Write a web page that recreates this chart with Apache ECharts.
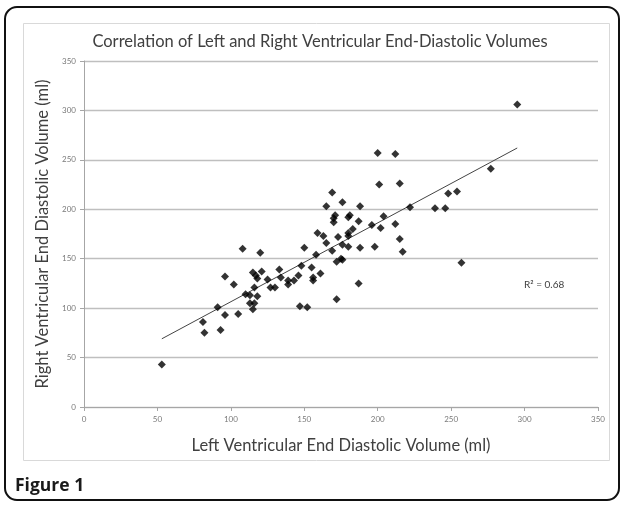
<!DOCTYPE html>
<html>
<head>
<meta charset="utf-8">
<script src="https://cdn.jsdelivr.net/npm/echarts@6/dist/echarts.min.js"></script>
<style>
  html, body { margin: 0; padding: 0; background: #fff; }
  #chart { width: 624px; height: 505px; }
</style>
</head>
<body>
<div id="chart"></div>
<script>
// LV end-diastolic volume (ml)
const lvedv = [53, 81, 82, 91, 93, 96, 96, 102, 105, 108, 110, 113, 113, 115, 117, 118, 116, 115, 116, 118,
  120, 121, 125, 127, 130, 133, 134, 139, 139, 143, 146, 148, 147, 152, 150, 155, 156, 156, 161, 158,
  159, 163, 165, 165, 169, 169, 170, 170, 171, 172, 172, 173, 175, 176, 176, 176, 180, 180, 180, 180,
  181, 183, 187, 187, 188, 188, 196, 198, 200, 201, 202, 204, 212, 212, 215, 215, 217, 222, 239, 246,
  248, 254, 257, 277, 295];
// RV end-diastolic volume (ml)
const rvedv = [43, 86, 75, 101, 78, 132, 93, 124, 94, 160, 114, 113, 105, 136, 133, 130, 105, 99, 121, 112,
  156, 137, 129, 121, 121, 139, 131, 128, 124, 128, 133, 143, 102, 101, 161, 141, 131, 128, 135, 154,
  176, 173, 166, 203, 217, 158, 187, 191, 194, 147, 109, 172, 150, 149, 207, 164, 176, 173, 162, 192,
  194, 180, 188, 125, 203, 161, 184, 162, 257, 225, 181, 193, 256, 185, 226, 170, 157, 202, 201, 201,
  216, 218, 146, 241, 306];
// Linear trendline end points
const trendX = [53, 295];
const trendY = [69, 262];
const xTicks = [0, 50, 100, 150, 200, 250, 300, 350];
const yTicks = [0, 50, 100, 150, 200, 250, 300, 350];
const titleText = 'Correlation of Left and Right Ventricular End-Diastolic Volumes';
const xName = 'Left Ventricular End Diastolic Volume (ml)';
const yName = 'Right Ventricular End Diastolic Volume (ml)';
const r2Text = 'R\u00B2 = 0.68';
const figLabel = 'Figure 1';

const chart = echarts.init(document.getElementById('chart'), null, { renderer: 'canvas' });
const FONT = 'Lato, "Open Sans", sans-serif';

chart.setOption({
  animation: false,
  backgroundColor: '#ffffff',
  grid: { left: 84, right: 26, top: 61, bottom: 98, containLabel: false },
  xAxis: {
    type: 'value',
    min: xTicks[0], max: xTicks[xTicks.length - 1], interval: 50,
    name: xName, nameLocation: 'middle', nameGap: 30,
    nameTextStyle: { fontFamily: FONT, fontSize: 16.5, color: '#404040' },
    axisLine: { show: true, lineStyle: { color: '#a6a6a6', width: 1 } },
    axisTick: { show: true, inside: false, length: 4, lineStyle: { color: '#a6a6a6' } },
    axisLabel: { fontFamily: FONT, fontSize: 8, color: '#7a7a7a', margin: 8 },
    splitLine: { show: false }
  },
  yAxis: {
    type: 'value',
    min: yTicks[0], max: yTicks[yTicks.length - 1], interval: 50,
    name: yName, nameLocation: 'middle', nameGap: 27, nameRotate: 90,
    nameTextStyle: { fontFamily: FONT, fontSize: 16.5, color: '#404040' },
    axisLine: { show: true, lineStyle: { color: '#a6a6a6', width: 1 } },
    axisTick: { show: true, inside: false, length: 4, lineStyle: { color: '#a6a6a6' } },
    axisLabel: { fontFamily: FONT, fontSize: 8, color: '#7a7a7a', margin: 8 },
    splitLine: { show: true, lineStyle: { color: '#bfbfbf', width: 1.3 } }
  },
  graphic: [
    { type: 'rect', shape: { x: 5, y: 7, width: 614, height: 493, r: 12 },
      style: { fill: 'none', stroke: '#111', lineWidth: 2 }, z: 0, silent: true },
    { type: 'rect', shape: { x: 23.5, y: 23.5, width: 586, height: 437 },
      style: { fill: 'none', stroke: '#d9d9d9', lineWidth: 1 }, z: 0, silent: true },
    { type: 'text', x: 320, y: 42,
      style: { text: titleText, fontFamily: FONT, fontSize: 16.5, fill: '#404040', textAlign: 'center', textVerticalAlign: 'middle' } },
    { type: 'text', x: 524, y: 285,
      style: { text: r2Text, fontFamily: FONT, fontSize: 10, fill: '#404040', textAlign: 'left', textVerticalAlign: 'middle' } },
    { type: 'text', x: 15, y: 486,
      style: { text: figLabel, fontFamily: '"Open Sans", sans-serif', fontWeight: 'bold', fontSize: 17.5, fill: '#1a1a1a', textAlign: 'left', textVerticalAlign: 'middle' } }
  ],
  series: [
    {
      type: 'scatter',
      data: lvedv.map((x, i) => [x, rvedv[i]]),
      symbol: 'diamond', symbolSize: 8,
      itemStyle: { color: '#000' },
      z: 3
    },
    {
      type: 'line',
      data: trendX.map((x, i) => [x, trendY[i]]),
      symbol: 'none',
      lineStyle: { color: '#444', width: 1 },
      z: 2
    }
  ]
});
</script>
</body>
</html>
